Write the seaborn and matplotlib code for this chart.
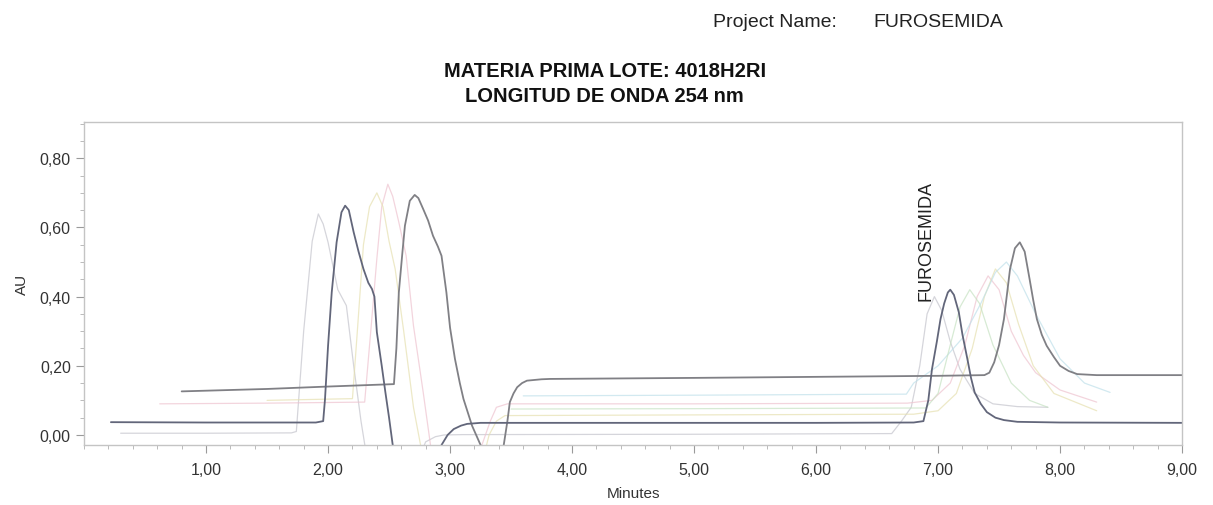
import matplotlib
matplotlib.use("Agg")
import matplotlib.pyplot as plt
from matplotlib.ticker import MultipleLocator, FixedLocator, FixedFormatter
import seaborn as sns

# Tiempos (min) y absorbancias (AU)
run_a_t = [0.22, 1.00, 1.90, 1.96, 1.975, 2.00, 2.03, 2.07, 2.11, 2.14, 2.17, 2.21,
           2.25, 2.29, 2.33, 2.36, 2.38, 2.40, 2.44, 2.47, 2.50, 2.53, 2.56,
           2.90, 2.93, 2.98, 3.03, 3.09, 3.14, 3.25, 4.00, 5.00, 6.00, 6.80, 6.88,
           6.92, 6.95, 6.99, 7.02, 7.05, 7.08, 7.10, 7.13, 7.17, 7.20, 7.24, 7.27,
           7.30, 7.35, 7.40, 7.47, 7.54, 7.65, 8.00, 9.00]
run_a_au = [0.037, 0.036, 0.036, 0.040, 0.104, 0.258, 0.412, 0.557, 0.644, 0.663, 0.650, 0.586,
            0.530, 0.480, 0.440, 0.422, 0.400, 0.297, 0.200, 0.123, 0.050, -0.029, -0.07,
            -0.07, -0.029, 0.000, 0.017, 0.027, 0.032, 0.035, 0.035, 0.035, 0.035, 0.036, 0.040,
            0.100, 0.190, 0.270, 0.335, 0.380, 0.412, 0.420, 0.405, 0.355, 0.290, 0.220, 0.165,
            0.123, 0.090, 0.066, 0.050, 0.043, 0.038, 0.036, 0.035]

run_b_t = [0.80, 1.50, 2.00, 2.54, 2.56, 2.58, 2.61, 2.63, 2.67, 2.71, 2.74, 2.78,
           2.82, 2.86, 2.90, 2.93, 2.97, 3.00, 3.04, 3.08, 3.11, 3.18, 3.25, 3.28,
           3.41, 3.44, 3.47, 3.49, 3.52, 3.55, 3.59, 3.63, 3.75, 3.82, 5.00, 6.00,
           7.00, 7.38, 7.42, 7.46, 7.50, 7.54, 7.59, 7.63, 7.67, 7.71, 7.75, 7.78,
           7.81, 7.85, 7.89, 7.95, 8.00, 8.07, 8.14, 8.30, 9.00]
run_b_au = [0.126, 0.133, 0.140, 0.147, 0.250, 0.412, 0.530, 0.605, 0.677, 0.694, 0.685, 0.653,
            0.620, 0.576, 0.545, 0.518, 0.412, 0.310, 0.220, 0.150, 0.104, 0.027, -0.029, -0.07,
            -0.07, -0.029, 0.040, 0.095, 0.120, 0.138, 0.150, 0.157, 0.161, 0.162, 0.165, 0.168,
            0.171, 0.173, 0.180, 0.210, 0.260, 0.335, 0.480, 0.540, 0.557, 0.530, 0.451, 0.390,
            0.335, 0.290, 0.258, 0.225, 0.200, 0.185, 0.176, 0.173, 0.173]

run_c_t = [0.30, 1.00, 1.70, 1.74, 1.80, 1.87, 1.92, 1.96, 2.00, 2.08, 2.15, 2.21, 2.27, 2.32,
           2.74, 2.80, 2.88, 2.95, 3.10, 5.00, 6.62, 6.70, 6.78, 6.85, 6.91, 6.97, 7.03,
           7.10, 7.18, 7.30, 7.45, 7.65, 7.90]
run_c_au = [0.005, 0.005, 0.006, 0.010, 0.300, 0.560, 0.639, 0.610, 0.557, 0.420, 0.374, 0.200, 0.040, -0.07,
            -0.07, -0.020, -0.005, 0.000, 0.001, 0.002, 0.004, 0.040, 0.080, 0.200, 0.350, 0.400, 0.360,
            0.270, 0.190, 0.120, 0.090, 0.082, 0.080]

run_d_t = [0.62, 1.50, 2.30, 2.35, 2.40, 2.44, 2.49, 2.53, 2.58, 2.64, 2.70, 2.78, 2.84, 2.88,
           3.22, 3.28, 3.33, 3.38, 3.47, 5.00, 6.75, 6.95, 7.10, 7.22, 7.32, 7.41, 7.50,
           7.60, 7.70, 7.80, 8.00, 8.30]
run_d_au = [0.090, 0.092, 0.095, 0.300, 0.510, 0.660, 0.725, 0.690, 0.615, 0.518, 0.316, 0.123, -0.030, -0.07,
            -0.07, -0.010, 0.040, 0.080, 0.090, 0.090, 0.092, 0.100, 0.150, 0.260, 0.400, 0.460, 0.420,
            0.300, 0.230, 0.180, 0.130, 0.095]

run_e_t = [1.50, 2.20, 2.24, 2.29, 2.34, 2.40, 2.45, 2.50, 2.55, 2.62, 2.70, 2.78,
           3.27, 3.32, 3.38, 3.45, 5.00, 6.80, 7.00, 7.15, 7.28, 7.38, 7.47, 7.56,
           7.66, 7.78, 7.95, 8.30]
run_e_au = [0.100, 0.105, 0.300, 0.550, 0.660, 0.700, 0.660, 0.560, 0.480, 0.300, 0.080, -0.07,
            -0.07, 0.000, 0.040, 0.056, 0.058, 0.060, 0.070, 0.120, 0.250, 0.400, 0.480, 0.440,
            0.320, 0.200, 0.120, 0.070]

run_f_t = [3.60, 5.00, 6.74, 6.80, 7.00, 7.20, 7.35, 7.47, 7.56, 7.65, 7.80, 8.00, 8.20, 8.41]
run_f_au = [0.113, 0.115, 0.118, 0.150, 0.200, 0.280, 0.380, 0.470, 0.500, 0.460, 0.350, 0.220, 0.150, 0.123]

run_g_t = [3.50, 5.00, 6.90, 7.00, 7.10, 7.18, 7.26, 7.34, 7.45, 7.60, 7.75, 7.90]
run_g_au = [0.075, 0.076, 0.078, 0.120, 0.260, 0.370, 0.420, 0.380, 0.260, 0.150, 0.100, 0.080]

x_tick_values = [1, 2, 3, 4, 5, 6, 7, 8, 9]
x_tick_labels = ["1,00", "2,00", "3,00", "4,00", "5,00", "6,00", "7,00", "8,00", "9,00"]
y_tick_values = [0.0, 0.2, 0.4, 0.6, 0.8]
y_tick_labels = ["0,00", "0,20", "0,40", "0,60", "0,80"]

runs = [
    (run_c_t, run_c_au, "#c4c4cc", 0.9, 0.7),
    (run_d_t, run_d_au, "#eec3cf", 0.9, 0.7),
    (run_e_t, run_e_au, "#e6e0b0", 0.9, 0.7),
    (run_f_t, run_f_au, "#bfe0ea", 0.9, 0.7),
    (run_g_t, run_g_au, "#c6e2c2", 0.9, 0.7),
    (run_b_t, run_b_au, "#808085", 1.3, 1.0),
    (run_a_t, run_a_au, "#62667a", 1.3, 1.0),
]

sns.set_style("white")
plt.rcParams["font.family"] = ["Liberation Sans", "DejaVu Sans"]

fig = plt.figure(figsize=(12.13, 5.06), dpi=100)
ax = fig.add_axes([0.0693, 0.1186, 0.9052, 0.6384])

for t, au, color, lw, alpha in runs:
    sns.lineplot(x=t, y=au, ax=ax, color=color, linewidth=lw, alpha=alpha,
                 sort=False, estimator=None)

ax.set_xlim(0, 9)
ax.set_ylim(-0.029, 0.905)

ax.xaxis.set_major_locator(FixedLocator(x_tick_values))
ax.xaxis.set_major_formatter(FixedFormatter(x_tick_labels))
ax.yaxis.set_major_locator(FixedLocator(y_tick_values))
ax.yaxis.set_major_formatter(FixedFormatter(y_tick_labels))
ax.xaxis.set_minor_locator(MultipleLocator(0.2))
ax.yaxis.set_minor_locator(MultipleLocator(0.05))
ax.tick_params(which="major", direction="out", length=6, width=0.8, color="#9a9a9a",
               labelsize=11.5, labelcolor="#333333", bottom=True, left=True)
ax.tick_params(which="minor", direction="out", length=3, width=0.6, color="#b0b0b0",
               bottom=True, left=True)
ax.tick_params(axis="x", pad=6)

for side in ["top", "right", "bottom", "left"]:
    ax.spines[side].set_color("#c4c4c4")
    ax.spines[side].set_linewidth(1.0)

ax.set_xlabel("Minutes", fontsize=11, color="#333333", labelpad=7)
ax.set_ylabel("AU", fontsize=11, color="#333333", labelpad=8)

ax.text(6.90, 0.39, "FUROSEMIDA", rotation=90, ha="center", va="bottom",
        fontsize=13, color="#222222")

fig.text(0.588, 0.955, "Project Name:", fontsize=14, color="#222222", va="center", ha="left")
fig.text(0.720, 0.955, "FUROSEMIDA", fontsize=14, color="#222222", va="center", ha="left")
fig.text(0.4985, 0.834, "MATERIA PRIMA LOTE: 4018H2RI\nLONGITUD DE ONDA 254 nm",
         fontsize=14.5, fontweight="bold", color="#111111", ha="center", va="center",
         linespacing=1.45)

fig.savefig("out.png", dpi=100, facecolor="white")
